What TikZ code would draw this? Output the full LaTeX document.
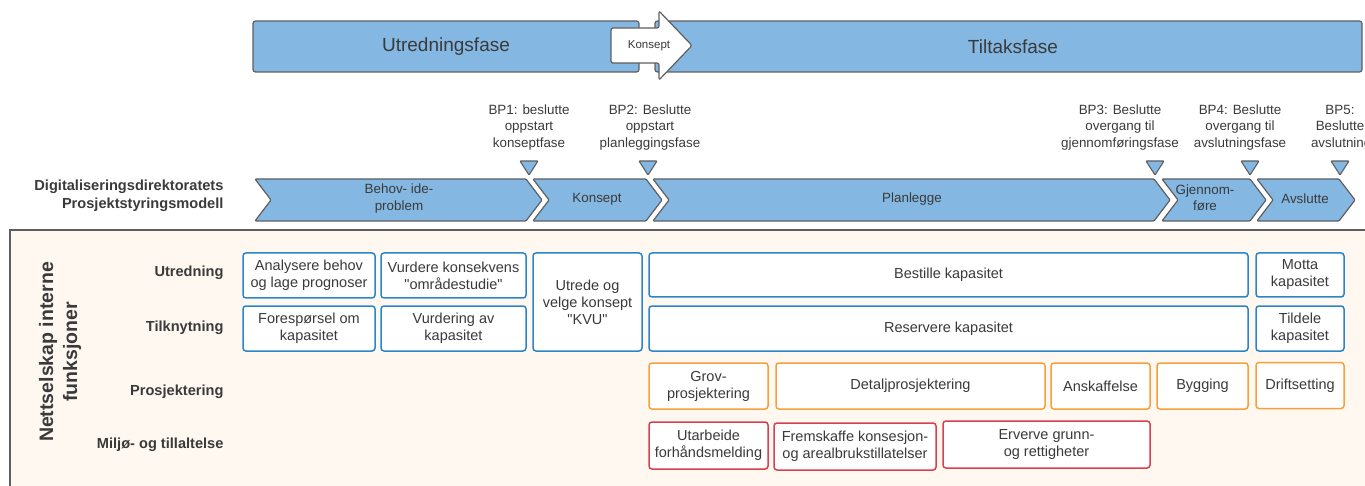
\documentclass[tikz,border=0pt]{standalone}
\usepackage{fontspec}
\setmainfont{Liberation Sans}[Ligatures=TeXOff]
\definecolor{phaseblue}{HTML}{84B8E2}
\definecolor{framegray}{HTML}{5E5E5E}
\definecolor{boxblue}{HTML}{2A86C8}
\definecolor{boxorange}{HTML}{F5A03C}
\definecolor{boxred}{HTML}{D6404F}
\definecolor{panelfill}{HTML}{FFF8F1}
\definecolor{txt}{HTML}{3A3A3A}
\begin{document}
\begin{tikzpicture}[x=1pt,y=-1pt,
  phasebar/.style={draw=framegray, fill=phaseblue, line width=1.2pt, rounded corners=2.5pt,
    inner sep=0pt, text=txt, font=\fontsize{19}{22}\selectfont},
  chev/.style={draw=framegray, fill=phaseblue, line width=1.2pt, rounded corners=1pt},
  chevtext/.style={align=center, text=txt, font=\fontsize{13.4}{16.5}\selectfont},
  bptext/.style={align=center, text=txt, font=\fontsize{13.4}{16.5}\selectfont},
  bpmark/.style={draw=framegray, fill=phaseblue, line width=1.1pt, rounded corners=0.8pt},
  rowlabel/.style={anchor=east, align=right, text=txt, font=\bfseries\fontsize{14.6}{18}\selectfont},
  taskbox/.style={draw, fill=white, line width=1.5pt, rounded corners=3pt, inner sep=0pt,
    align=center, text=txt, font=\fontsize{14.5}{17}\selectfont},
  bluebox/.style={taskbox, draw=boxblue},
  orangebox/.style={taskbox, draw=boxorange},
  redbox/.style={taskbox, draw=boxred}]
\useasboundingbox (0,0) rectangle (1365,486);
\clip (0,0) rectangle (1365,486);

% phase bars
\node[phasebar, minimum width=386, minimum height=51] (utr) at (446,46.5) {Utredningsfase};
\node[phasebar, minimum width=707, minimum height=51] (tilt) at (1008.5,46.5) {\hspace*{9pt}Tiltaksfase};
\path[draw=framegray, fill=white, line width=1.2pt, rounded corners=2pt]
  (611,28) -- (659,28) -- (659,11) -- (692,45.5) -- (659,80) -- (659,63) -- (611,63) -- cycle;
\node[text=txt, font=\fontsize{11.5}{13}\selectfont] (konseptpil) at (649,45.5) {Konsept};

% decision points
\node[bptext] (bp1) at (529,127.5) {BP1: beslutte\\oppstart\\konseptfase};
\node[bptext] (bp2) at (650,127.5) {BP2: Beslutte\\oppstart\\planleggingsfase};
\node[bptext] (bp3) at (1120,127.5) {BP3: Beslutte\\overgang til\\gjennomføringsfase};
\node[bptext] (bp4) at (1240,127.5) {BP4: Beslutte\\overgang til\\avslutningsfase};
\node[bptext] (bp5) at (1340,127.5) {BP5:\\Beslutte\\\makebox[58pt][l]{avslutningsfase}};
\foreach \mx in {529,648,1155,1250,1340}
  \path[bpmark] (\mx-9,161) -- (\mx+9,161) -- (\mx,175) -- cycle;

% project model chevrons
\node[rowlabel] (modell) at (227,196) {Digitaliseringsdirektoratets\\Prosjektstyringsmodell};
\path[chev] (255,179) -- (526,179) -- (542,200) -- (526,221) -- (255,221) -- (271,200) -- cycle;
\path[chev] (533,179) -- (646,179) -- (662,200) -- (646,221) -- (533,221) -- (549,200) -- cycle;
\path[chev] (653,179) -- (1154,179) -- (1170,200) -- (1154,221) -- (653,221) -- (669,200) -- cycle;
\path[chev] (1162,179) -- (1250,179) -- (1266,200) -- (1250,221) -- (1162,221) -- (1178,200) -- cycle;
\path[chev] (1257,179) -- (1339,179) -- (1355,200) -- (1339,221) -- (1257,221) -- (1273,200) -- cycle;
\node[chevtext] (behov) at (399,198.5) {Behov- ide-\\problem};
\node[chevtext] (konsept) at (597,199) {Konsept};
\node[chevtext] (planlegge) at (912,199) {Planlegge};
\node[chevtext] (gjennom) at (1205,198) {Gjennom-\\føre};
\node[chevtext] (avslutte) at (1305,199) {Avslutte};

% internal functions panel
\draw[draw=framegray, fill=panelfill, line width=1.2pt] (10,230) rectangle (1380,500);
\node[rotate=90, align=center, text=txt, font=\bfseries\fontsize{19.5}{24}\selectfont] (funk) at (60,352)
  {Nettselskap interne\\funksjoner};
\node[rowlabel] (l1) at (227,273) {Utredning};
\node[rowlabel] (l2) at (227,328) {Tilknytning};
\node[rowlabel] (l3) at (227,392) {Prosjektering};
\node[rowlabel] (l4) at (227,445) {Miljø- og tillaltelse};

% Utredning
\node[bluebox, minimum width=132, minimum height=45] (analysere) at (309,275.5) {Analysere behov\\og lage prognoser};
\node[bluebox, minimum width=145, minimum height=45] (konsekvens) at (453.5,275.5) {Vurdere konsekvens\\"områdestudie"};
\node[bluebox, minimum width=109, minimum height=98] (kvu) at (587.5,302) {Utrede og\\velge konsept\\"KVU"};
\node[bluebox, minimum width=599, minimum height=44] (bestille) at (948.5,275) {Bestille kapasitet};
\node[bluebox, minimum width=88, minimum height=44] (motta) at (1300,275) {Motta\\kapasitet};
% Tilknytning
\node[bluebox, minimum width=132, minimum height=45] (foresporsel) at (309,328.5) {Forespørsel om\\kapasitet};
\node[bluebox, minimum width=145, minimum height=45] (vurdering) at (453.5,328.5) {Vurdering av\\kapasitet};
\node[bluebox, minimum width=599, minimum height=45] (reservere) at (948.5,328.5) {Reservere kapasitet};
\node[bluebox, minimum width=88, minimum height=45] (tildele) at (1300,328.5) {Tildele\\kapasitet};
% Prosjektering
\node[orangebox, minimum width=119, minimum height=46] (grov) at (708.5,386) {Grov-\\prosjektering};
\node[orangebox, minimum width=269, minimum height=46] (detalj) at (910.5,386) {Detaljprosjektering};
\node[orangebox, minimum width=99, minimum height=46] (anskaffelse) at (1100.5,386) {Anskaffelse};
\node[orangebox, minimum width=91, minimum height=46] (bygging) at (1202.5,386) {Bygging};
\node[orangebox, minimum width=88, minimum height=46] (drift) at (1300,385.5) {Driftsetting};
% Miljø- og tillatelse
\node[redbox, minimum width=119, minimum height=47] (forhand) at (708.5,445.5) {Utarbeide\\forhåndsmelding};
\node[redbox, minimum width=162, minimum height=47] (konsesjon) at (855,446.5) {Fremskaffe konsesjon-\\og arealbrukstillatelser};
\node[redbox, minimum width=207, minimum height=47] (grunn) at (1046.5,444.5) {Erverve grunn-\\og rettigheter};
\end{tikzpicture}
\end{document}
